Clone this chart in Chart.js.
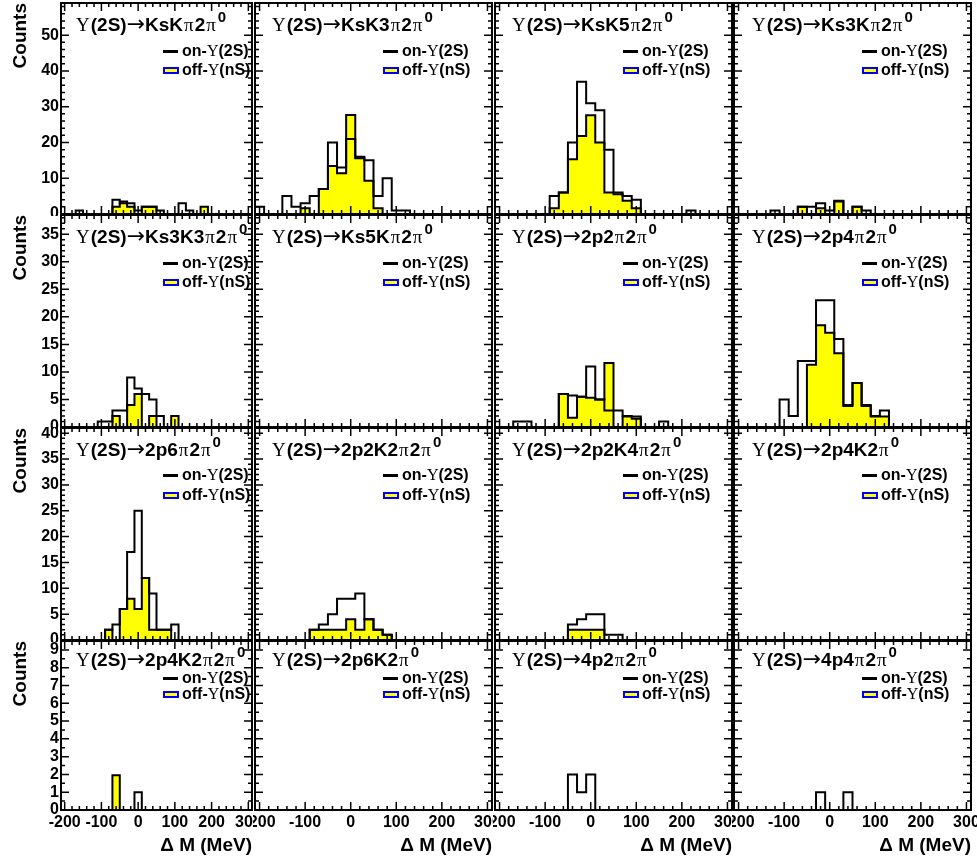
<!DOCTYPE html>
<html>
<head>
<meta charset="utf-8">
<script src="https://cdn.jsdelivr.net/npm/chart.js@4.4.0/dist/chart.umd.min.js"></script>
<style>
  body { margin: 0; background: #fff; width: 977px; height: 865px; overflow: hidden; position: relative;
         font-family: "Liberation Sans", Arial, sans-serif; }
  canvas { position: absolute; }
  .ttl { position: absolute; font-weight: bold; font-size: 19px; line-height: 20px; white-space: nowrap; color: #000; }
  .leg { position: absolute; font-weight: bold; font-size: 16px; line-height: 16px; white-space: nowrap; color: #000; }
  .sym { font-family: "Liberation Serif", "DejaVu Serif", serif; font-weight: normal; }
  .ttl .sym { margin: 0 1px; }
  .arr { font-family: "DejaVu Sans", sans-serif; font-weight: normal; font-size: 22px; line-height: 10px; }
  .sup { position: relative; top: -9px; font-size: 15px; margin-left: 1px; }
  .lline { position: absolute; width: 15px; height: 3px; background: #000; }
  .lbox { position: absolute; width: 12px; height: 3px; background: #ffff00; border: 2px solid #0000ff; }
</style>
</head>
<body>
<script>
// binning: 20 MeV bins, centres -200 ... 300
var binCenters = [-200,-180,-160,-140,-120,-100,-80,-60,-40,-20,0,20,40,60,80,100,120,140,160,180,200,220,240,260,280,300];
var binWidth = 20;
var xMin = -210, xMax = 310;
var xTickLabels = [-200,-100,0,100,200,300];

// y range per row of pads
var rowYMax = [59, 38.5, 41, 9.5];
var rowYTicks = [[0,10,20,30,40,50],[0,5,10,15,20,25,30,35],[0,5,10,15,20,25,30,35,40],[0,1,2,3,4,5,6,7,8,9]];
var rowYMinor = [2, 1, 1, 0.5];

// ---- counts per bin (on = on-Y(2S), off = off-Y(nS) scaled) ----
var onKsKpi      = [0,0,1,0,0,0,0,4,3,3,1,2,2,1,0,0,3,1,0,0,0,0,0,0,0,0];
var offKsKpi     = [0,0,0,0,0,0,0,2,3.5,2,0,2,2,0,0,0,0,0,0,2,0,0,0,0,0,0];
var onKsK3pi     = [2,0,0,5,2,3,5,7,20,13,21,16,15,5,10,1,1,0,0,0,0,0,0,0,0,0];
var offKsK3pi    = [0,0,0,0,0,1.6,0,7,13.4,11.4,27.7,15.6,9.3,1.6,0,0,0,0,0,0,0,0,0,0,0,0];
var onKsK5pi     = [0,0,0,0,0,0,5,6,20,37,31,29,18,6,5,4,0,0,0,0,0,1,0,0,0,0];
var offKsK5pi    = [0,0,0,0,0,0,1.6,6,15.3,21.8,27.6,20,6,5.5,3.7,1.6,0,0,0,0,0,0,0,0,0,0];
var onKs3Kpi     = [0,0,0,0,1,0,0,2,2,3,1,3.5,0,2,1,0,0,0,0,0,0,0,0,0,0,0];
var offKs3Kpi    = [0,0,0,0,0,0,0,2,0,1.6,0,3.7,0,2,0,0,0,0,0,0,0,0,0,0,0,0];
var onKs3K3pi    = [0,0,0,0,0,1,1,3,3,9,7,6,5,2,0,0,0,0,0,0,0,0,0,0,0,0];
var offKs3K3pi   = [0,0,0,0,0,0,0,2,0,4,6,0,2,0,0,2,0,0,0,0,0,0,0,0,0,0];
var onKs5Kpi     = [0,0,0,0,0,0,0,0,0,0,0,0,0,0,0,0,0,0,0,0,0,0,0,0,0,0];
var offKs5Kpi    = [0,0,0,0,0,0,0,0,0,0,0,0,0,0,0,0,0,0,0,0,0,0,0,0,0,0];
var on2p2pi      = [0,0,1,1,0,0,0,6,5.7,5.5,11,5,3,3,2,1.5,0,0,1,0,0,0,0,0,0,0];
var off2p2pi     = [0,0,0,0,0,0,0,6,1.7,5.5,5.3,5,11.6,0,1.9,1.9,0,0,0,0,0,0,0,0,0,0];
var on2p4pi      = [0,0,0,0,0,5,2,12,12,23,23,16,4,8,4,2,3,0,0,0,0,0,0,0,0,0];
var off2p4pi     = [0,0,0,0,0,0,0,0,11.3,18.5,17.1,13.4,3.8,8,3.8,1.9,1.9,0,0,0,0,0,0,0,0,0];
var on2p6pi      = [0,0,0,0,0,0,2,3,6,17,25,12,9,2,2,3,0,0,0,0,0,0,0,0,0,0];
var off2p6pi     = [0,0,0,0,0,0,2,0,6,8,6,12,2,2,2,0,0,0,0,0,0,0,0,0,0,0];
var on2p2K2pi    = [0,0,0,0,0,0,2,3,5,8,8,9,4,2,1,0,0,0,0,0,0,0,0,0,0,0];
var off2p2K2pi   = [0,0,0,0,0,0,2,2,2,2,4,2,4,2,1,0,0,0,0,0,0,0,0,0,0,0];
var on2p2K4pi    = [0,0,0,0,0,0,0,0,3,4,5,5,1,1,0,0,0,0,0,0,0,0,0,0,0,0];
var off2p2K4pi   = [0,0,0,0,0,0,0,0,2,2,2,2,0,0,0,0,0,0,0,0,0,0,0,0,0,0];
var on2p4K       = [0,0,0,0,0,0,0,0,0,0,0,0,0,0,0,0,0,0,0,0,0,0,0,0,0,0];
var off2p4K      = [0,0,0,0,0,0,0,0,0,0,0,0,0,0,0,0,0,0,0,0,0,0,0,0,0,0];
var on2p4K2pi    = [0,0,0,0,0,0,0,0,0,0,1,0,0,0,0,0,0,0,0,0,0,0,0,0,0,0];
var off2p4K2pi   = [0,0,0,0,0,0,0,1.95,0,0,0,0,0,0,0,0,0,0,0,0,0,0,0,0,0,0];
var on2p6K       = [0,0,0,0,0,0,0,0,0,0,0,0,0,0,0,0,0,0,0,0,0,0,0,0,0,0];
var off2p6K      = [0,0,0,0,0,0,0,0,0,0,0,0,0,0,0,0,0,0,0,0,0,0,0,0,0,0];
var on4p2pi      = [0,0,0,0,0,0,0,0,2,1,2,0,0,0,0,0,0,0,0,0,0,0,0,0,0,0];
var off4p2pi     = [0,0,0,0,0,0,0,0,0,0,0,0,0,0,0,0,0,0,0,0,0,0,0,0,0,0];
var on4p4pi      = [0,0,0,0,0,0,0,0,0,1,0,0,1,0,0,0,0,0,0,0,0,0,0,0,0,0];
var off4p4pi     = [0,0,0,0,0,0,0,0,0,0,0,0,0,0,0,0,0,0,0,0,0,0,0,0,0,0];

// channel names (pi written as π, final 2π0 handled in title)
var channels = ['KsKπ2π', 'KsK3π2π', 'KsK5π2π', 'Ks3Kπ2π',
                'Ks3K3π2π', 'Ks5Kπ2π', '2p2π2π', '2p4π2π',
                '2p6π2π', '2p2K2π2π', '2p2K4π2π', '2p4K2π',
                '2p4K2π2π', '2p6K2π', '4p2π2π', '4p4π2π'];
var onData  = [onKsKpi, onKsK3pi, onKsK5pi, onKs3Kpi, onKs3K3pi, onKs5Kpi, on2p2pi, on2p4pi,
               on2p6pi, on2p2K2pi, on2p2K4pi, on2p4K, on2p4K2pi, on2p6K, on4p2pi, on4p4pi];
var offData = [offKsKpi, offKsK3pi, offKsK5pi, offKs3Kpi, offKs3K3pi, offKs5Kpi, off2p2pi, off2p4pi,
               off2p6pi, off2p2K2pi, off2p2K4pi, off2p4K, off2p4K2pi, off2p6K, off4p2pi, off4p4pi];

// pad geometry (canvas box and frame box, page pixels)
var colCanvas = [[0,253],[253,493],[493,733],[732,977]];
var colFrame  = [[61,252],[254,492],[494,732],[733,971]];
var rowCanvas = [[0,216],[214,429],[427,642],[640,865]];
var rowFrame  = [[3,215],[215,428],[428,641],[641,810]];
var titleX  = [75, 271, 511, 751];
var sampleX = [163, 383, 623, 862];
var titleBase = [29, 29, 29, 26];
var legLine = [48, 48, 47, 37];
var legBox  = [67, 67, 67, 53];

var FONT = "'Liberation Sans', Arial, sans-serif";

// histogram -> step points at bin edges
function toSteps(vals) {
    var pts = binCenters.map(function (c, i) { return {x: c - binWidth / 2, y: vals[i]}; });
    pts.push({x: binCenters[binCenters.length - 1] + binWidth / 2, y: 0});
    return pts;
}

// ROOT-like frame with inward ticks on all four sides
var rootFrame = {
    id: 'rootFrame',
    afterDatasetsDraw: function (chart, args, o) {
        var ctx = chart.ctx, a = chart.chartArea;
        var xs = chart.scales.x, ys = chart.scales.y;
        ctx.save();
        ctx.strokeStyle = '#000';
        ctx.lineWidth = 1.5;
        ctx.beginPath();
        for (var k = 0; binCenters[0] + k * binWidth <= xMax; k++) {
            var v = binCenters[0] + k * binWidth;
            var px = xs.getPixelForValue(v);
            var len = (v % 100 === 0) ? 8 : 4;
            ctx.moveTo(px, a.bottom); ctx.lineTo(px, a.bottom - len);
            ctx.moveTo(px, a.top); ctx.lineTo(px, a.top + len);
        }
        for (var j = 0; j * o.minor <= o.max; j++) {
            var yv = j * o.minor;
            var py = ys.getPixelForValue(yv);
            var r = yv / o.major;
            var ylen = Math.abs(r - Math.round(r)) < 1e-6 ? 8 : 4;
            ctx.moveTo(a.left, py); ctx.lineTo(a.left + ylen, py);
            ctx.moveTo(a.right, py); ctx.lineTo(a.right - ylen, py);
        }
        ctx.stroke();
        ctx.lineWidth = 2;
        ctx.strokeRect(a.left, a.top, a.right - a.left, a.bottom - a.top);
        ctx.restore();
    }
};

function symHtml(s) {
    return s.replace(/π/g, '<span class="sym">π</span>');
}

function addDiv(cls, left, top, html) {
    var d = document.createElement('div');
    d.className = cls;
    d.style.left = left + 'px';
    d.style.top = top + 'px';
    if (html) d.innerHTML = html;
    document.body.appendChild(d);
    return d;
}

for (var p = 0; p < 16; p++) {
    (function (p) {
        var r = Math.floor(p / 4), c = p % 4;
        var cx = colCanvas[c], cy = rowCanvas[r], fx = colFrame[c], fy = rowFrame[r];
        var cv = document.createElement('canvas');
        cv.width = cx[1] - cx[0];
        cv.height = cy[1] - cy[0];
        cv.style.left = cx[0] + 'px';
        cv.style.top = cy[0] + 'px';
        document.body.appendChild(cv);

        var firstCol = (c === 0), lastRow = (r === 3);

        new Chart(cv.getContext('2d'), {
            type: 'line',
            data: {
                datasets: [
                    {
                        label: 'on-Υ(2S)',
                        data: toSteps(onData[p]),
                        stepped: 'before',
                        borderColor: '#000',
                        borderWidth: 2,
                        fill: false,
                        pointRadius: 0,
                        order: 0
                    },
                    {
                        label: 'off-Υ(nS)',
                        data: toSteps(offData[p]),
                        stepped: 'before',
                        borderColor: '#000',
                        borderWidth: 2,
                        backgroundColor: '#ffff00',
                        fill: 'origin',
                        pointRadius: 0,
                        order: 1
                    }
                ]
            },
            options: {
                responsive: false,
                animation: false,
                events: [],
                layout: {
                    padding: {
                        left: firstCol ? 0 : fx[0] - cx[0],
                        right: cx[1] - fx[1],
                        top: fy[0] - cy[0],
                        bottom: lastRow ? 0 : cy[1] - fy[1]
                    }
                },
                plugins: {
                    legend: { display: false },
                    tooltip: { enabled: false },
                    rootFrame: { max: rowYMax[r], major: rowYTicks[r][1], minor: rowYMinor[r] }
                },
                scales: {
                    x: {
                        type: 'linear',
                        min: xMin,
                        max: xMax,
                        display: lastRow,
                        grid: { display: false, drawTicks: false },
                        border: { display: false },
                        ticks: {
                            color: '#000',
                            padding: 3,
                            maxRotation: 0,
                            autoSkip: false,
                            font: { family: FONT, size: 16, weight: 'bold' }
                        },
                        title: {
                            display: true,
                            text: 'Δ M (MeV)',
                            align: 'end',
                            color: '#000',
                            padding: { top: 0, bottom: 8 },
                            font: { family: FONT, size: 19, weight: 'bold' }
                        },
                        afterBuildTicks: function (s) {
                            s.ticks = xTickLabels.map(function (v) { return {value: v}; });
                        },
                        afterFit: function (s) {
                            s.height = cy[1] - fy[1];
                            s.paddingLeft = 0;
                            s.paddingRight = 0;
                        }
                    },
                    y: {
                        type: 'linear',
                        min: 0,
                        max: rowYMax[r],
                        display: firstCol,
                        grid: { display: false, drawTicks: false },
                        border: { display: false },
                        ticks: {
                            color: '#000',
                            padding: 2,
                            autoSkip: false,
                            font: { family: FONT, size: 16, weight: 'bold' }
                        },
                        title: {
                            display: true,
                            text: 'Counts',
                            align: 'end',
                            color: '#000',
                            padding: { top: 9, bottom: 0 },
                            font: { family: FONT, size: 19, weight: 'bold' }
                        },
                        afterBuildTicks: function (s) {
                            s.ticks = rowYTicks[r].map(function (v) { return {value: v}; });
                        },
                        afterFit: function (s) {
                            s.width = fx[0] - cx[0];
                            s.paddingTop = 0;
                            s.paddingBottom = 0;
                        }
                    }
                }
            },
            plugins: [rootFrame]
        });

        // pad title
        var t = '<span class="sym">Υ</span>(2S)<span class="arr">→</span>' + symHtml(channels[p]) +
                '<span class="sup">0</span>';
        addDiv('ttl', titleX[c], fy[0] + titleBase[r] - 16.6, t);

        // legend
        addDiv('lline', sampleX[c], fy[0] + legLine[r] - 1.5);
        addDiv('leg', sampleX[c] + 19, fy[0] + legLine[r] - 7.8, 'on-<span class="sym">Υ</span>(2S)');
        addDiv('lbox', sampleX[c], fy[0] + legBox[r] - 3.5);
        addDiv('leg', sampleX[c] + 19, fy[0] + legBox[r] - 7.8, 'off-<span class="sym">Υ</span>(nS)');
    })(p);
}
</script>
</body>
</html>
